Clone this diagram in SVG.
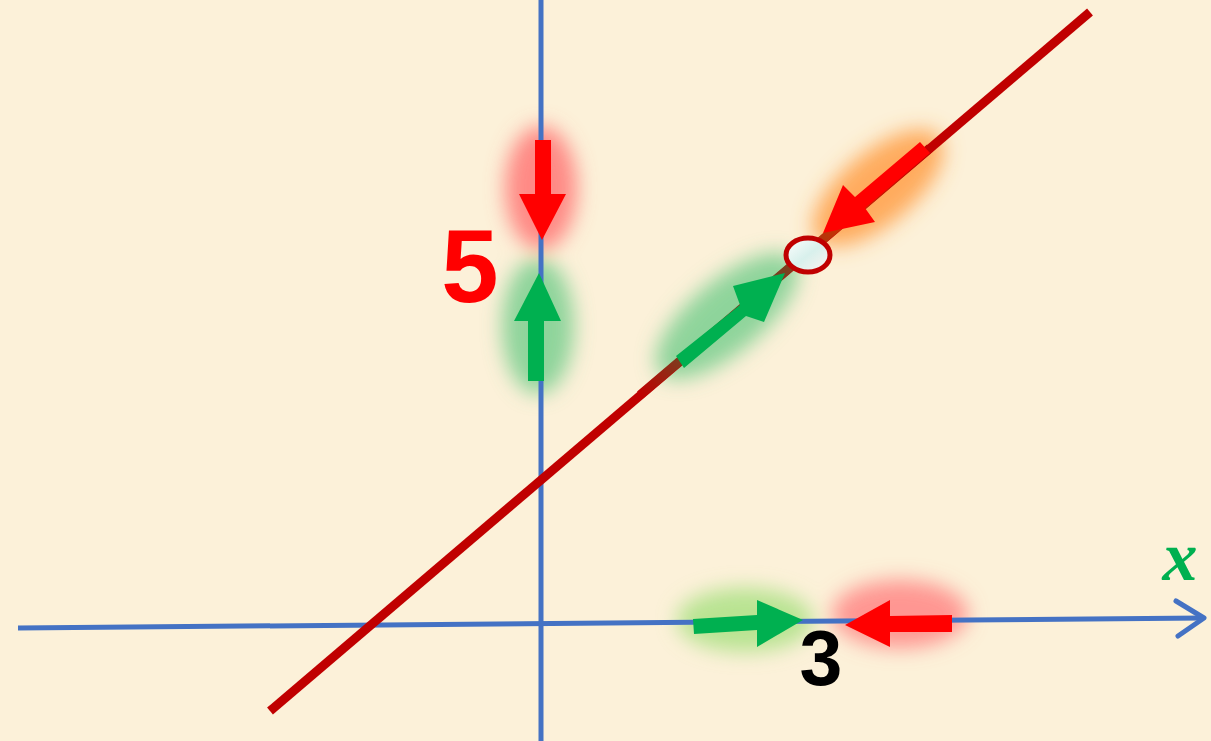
<svg xmlns="http://www.w3.org/2000/svg" width="1211" height="741" viewBox="0 0 1211 741">
  <defs>
    <filter id="blur" x="-50%" y="-50%" width="200%" height="200%">
      <feGaussianBlur stdDeviation="10"/>
    </filter>
    <linearGradient id="seg" gradientUnits="userSpaceOnUse" x1="640" y1="395" x2="930" y2="150">
      <stop offset="0" stop-color="#C00000"/>
      <stop offset="0.15" stop-color="#7A4020"/>
      <stop offset="0.5" stop-color="#7A4020"/>
      <stop offset="0.7" stop-color="#D03000"/>
      <stop offset="1" stop-color="#C00000"/>
    </linearGradient>
    <linearGradient id="hole" x1="0" y1="0" x2="1" y2="1">
      <stop offset="0" stop-color="#FFFFFF"/>
      <stop offset="0.5" stop-color="#D8F0EC"/>
      <stop offset="1" stop-color="#FFF4F0"/>
    </linearGradient>
    <style>
      .axis { stroke: #4472C4; stroke-width: 5; fill: none; }
      .fn { stroke: #C00000; stroke-width: 9; fill: none; }
      .green { fill: #00B050; }
      .red { fill: #FF0000; }
      .lbl { font-family: "Liberation Sans", Arial, sans-serif; font-weight: bold; }
    </style>
  </defs>
  <rect width="1211" height="741" fill="#FCF1D9"/>
  <g id="glows" filter="url(#blur)">
    <ellipse cx="541" cy="188" rx="36" ry="62" fill="#FF7070" opacity="0.8"/>
    <ellipse cx="538" cy="326" rx="36" ry="68" fill="#60C880" opacity="0.7"/>
    <ellipse cx="878" cy="188" rx="80" ry="36" fill="#FF9A40" opacity="0.8" transform="rotate(-40 878 188)"/>
    <ellipse cx="727" cy="316" rx="88" ry="36" fill="#60C880" opacity="0.7" transform="rotate(-40 727 316)"/>
    <ellipse cx="745" cy="620" rx="68" ry="32" fill="#A8E080" opacity="0.8"/>
    <ellipse cx="900" cy="614" rx="68" ry="34" fill="#FF8080" opacity="0.8"/>
  </g>
  <g id="axes">
    <line class="axis" x1="541" y1="0" x2="541" y2="741"/>
    <line class="axis" x1="18" y1="628" x2="1203" y2="618"/>
    <polyline class="axis" points="1176,601 1204,618 1178,636" stroke-linecap="round" stroke-linejoin="round"/>
  </g>
  <g id="function-line">
    <line class="fn" x1="270" y1="711" x2="1090" y2="12"/>
    <line x1="640" y1="395" x2="930" y2="148" stroke="url(#seg)" stroke-width="9"/>
  </g>
  <g id="connectors">
    <polygon id="arrow-red-down" class="red" points="535,140 551,140 551,194 566,194 542,240 519,194 535,194"/>
    <polygon id="arrow-green-up" class="green" points="528,381 544,381 544,321 561,321 539,273 514,321 528,321"/>
    <polygon id="arrow-green-diag" class="green" points="676,356 684,368 746,316 764,322 785,273 733,286 740,305"/>
    <polygon id="arrow-red-diag" class="red" points="920,142 930,153 865,208 875,222 823,233 843,185 855,197"/>
    <polygon id="arrow-green-x" class="green" points="693,619 757,615 757,600 803,620 757,647 757,630 694,634"/>
    <polygon id="arrow-red-x" class="red" points="952,615 890,616 890,600 845,625 890,647 890,632 952,632"/>
  </g>
  <g id="hole-point">
    <ellipse cx="808" cy="255" rx="22" ry="17" fill="url(#hole)" stroke="#C00000" stroke-width="5"/>
  </g>
  <g id="labels">
    <text class="lbl" x="470" y="302" font-size="103" fill="#FF0000" text-anchor="middle">5</text>
    <text class="lbl" x="821" y="685" font-size="77" fill="#000000" text-anchor="middle">3</text>
    <text x="1180" y="580" font-family="'Liberation Serif', 'DejaVu Serif', serif" font-style="italic" font-weight="bold" font-size="70" fill="#00B050" text-anchor="middle">x</text>
  </g>
</svg>
